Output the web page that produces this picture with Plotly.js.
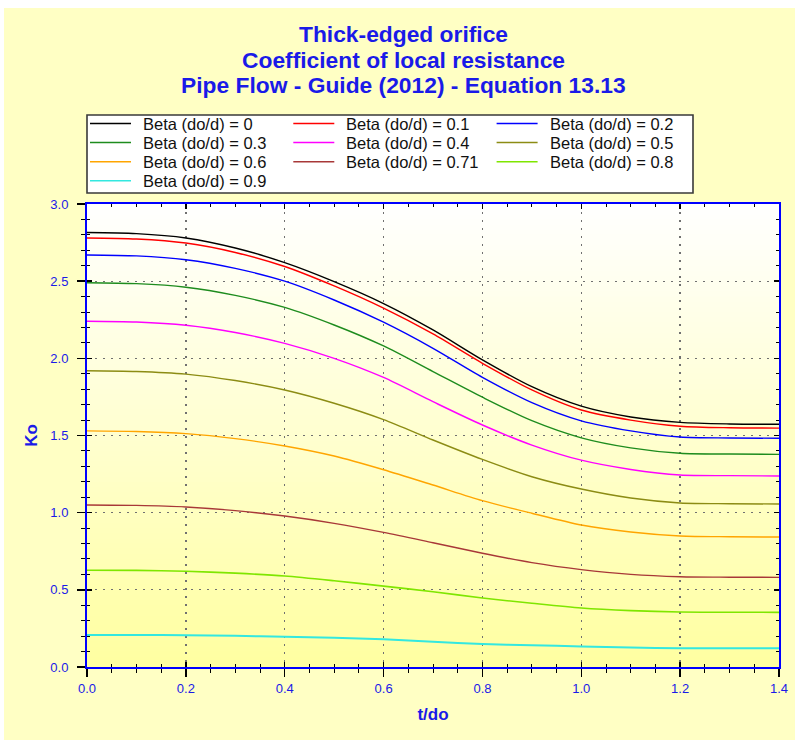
<!DOCTYPE html>
<html>
<head>
<meta charset="utf-8">
<script src="https://cdn.plot.ly/plotly-3.0.1.min.js"></script>
<style>
html,body{margin:0;padding:0;background:#ffffff;}
#chart{position:absolute;left:4px;top:8px;width:791px;height:732px;}
</style>
</head>
<body>
<div id="chart"></div>
<script>
// ---------- data ----------
const tdo = [0, 0.1, 0.2, 0.3, 0.4, 0.5, 0.6, 0.7, 0.8, 0.9, 1.0, 1.1, 1.2, 1.3, 1.4];
const ko_b000 = [2.815, 2.808, 2.780, 2.715, 2.620, 2.497, 2.355, 2.184, 1.990, 1.816, 1.690, 1.620, 1.585, 1.575, 1.573];
const ko_b010 = [2.780, 2.773, 2.747, 2.686, 2.595, 2.469, 2.325, 2.158, 1.968, 1.795, 1.665, 1.600, 1.560, 1.550, 1.548];
const ko_b020 = [2.670, 2.664, 2.639, 2.583, 2.500, 2.378, 2.234, 2.065, 1.877, 1.713, 1.595, 1.530, 1.490, 1.484, 1.482];
const ko_b030 = [2.490, 2.484, 2.461, 2.408, 2.330, 2.216, 2.080, 1.914, 1.748, 1.596, 1.485, 1.420, 1.385, 1.380, 1.378];
const ko_b040 = [2.240, 2.235, 2.214, 2.167, 2.097, 2.000, 1.876, 1.719, 1.568, 1.438, 1.340, 1.280, 1.244, 1.240, 1.238];
const ko_b050 = [1.920, 1.915, 1.898, 1.856, 1.795, 1.709, 1.603, 1.471, 1.345, 1.233, 1.153, 1.095, 1.063, 1.058, 1.056];
const ko_b060 = [1.530, 1.526, 1.512, 1.480, 1.432, 1.367, 1.278, 1.179, 1.078, 0.996, 0.920, 0.875, 0.849, 0.844, 0.842];
const ko_b071 = [1.050, 1.047, 1.037, 1.013, 0.978, 0.931, 0.872, 0.805, 0.737, 0.676, 0.631, 0.600, 0.585, 0.582, 0.581];
const ko_b080 = [0.627, 0.626, 0.620, 0.608, 0.590, 0.559, 0.524, 0.488, 0.447, 0.413, 0.382, 0.365, 0.356, 0.355, 0.354];
const ko_b090 = [0.208, 0.208, 0.206, 0.202, 0.196, 0.190, 0.179, 0.164, 0.149, 0.141, 0.133, 0.126, 0.121, 0.121, 0.121];

const seriesNames = ['Beta (do/d) = 0', 'Beta (do/d) = 0.1', 'Beta (do/d) = 0.2',
  'Beta (do/d) = 0.3', 'Beta (do/d) = 0.4', 'Beta (do/d) = 0.5',
  'Beta (do/d) = 0.6', 'Beta (do/d) = 0.71', 'Beta (do/d) = 0.8', 'Beta (do/d) = 0.9'];
const seriesValues = [ko_b000, ko_b010, ko_b020, ko_b030, ko_b040, ko_b050, ko_b060, ko_b071, ko_b080, ko_b090];

const titleLines = ['Thick-edged orifice', 'Coefficient of local resistance', 'Pipe Flow - Guide (2012) - Equation 13.13'];
const xTitle = 't/do';
const yTitle = 'Ko';

// ---------- styles ----------
const seriesColors = ['#000000', '#FF0000', '#0000FF', '#1E8C1E', '#FF00FF', '#8C8C14',
  '#FFA500', '#A83838', '#7FE600', '#33E8E0'];
const seriesWidths = [1.4, 1.4, 1.4, 1.4, 1.4, 1.4, 1.4, 1.4, 1.6, 2.0];
const FONT = 'Arial, "Liberation Sans", sans-serif';
const BLUE = '#1A1AE8';

// page-pixel -> paper fraction helpers (plot area: x 87..779, y 204..667)
function fx(px) { return (px - 87) / 692; }
function fy(py) { return (667 - py) / 463; }

const traces = seriesValues.map((vals, i) => ({
  x: tdo, y: vals, type: 'scatter', mode: 'lines', name: seriesNames[i],
  line: {color: seriesColors[i], width: seriesWidths[i], shape: 'spline', smoothing: 0.8},
  hoverinfo: 'skip', showlegend: false
}));

const shapes = [];
// plot-area gradient (white at top -> yellow at bottom)
const N = 90;
for (let i = 0; i < N; i++) {
  const t = (i + 0.5) / N; // 0 bottom .. 1 top
  const b = Math.round(160 + (255 - 160) * t);
  shapes.push({type: 'rect', xref: 'x domain', yref: 'y domain', x0: 0, x1: 1,
    y0: i / N, y1: (i + 1) / N + 0.002, fillcolor: 'rgb(255,255,' + b + ')',
    line: {width: 0}, layer: 'below'});
}
// legend box
shapes.push({type: 'rect', xref: 'paper', yref: 'paper', x0: fx(87), x1: fx(693), y0: fy(193), y1: fy(115),
  fillcolor: '#FFFFFF', line: {color: '#3a3a3a', width: 1.6}, layer: 'above'});

const annotations = [];
// title lines
const titleY = [34.5, 60, 85];
titleLines.forEach((t, i) => annotations.push({
  xref: 'paper', yref: 'paper', x: fx(403.5), y: fy(titleY[i]), xanchor: 'center', yanchor: 'middle',
  text: '<b>' + t + '</b>', showarrow: false, font: {family: FONT, size: 22.8, color: BLUE}
}));
// legend entries
seriesNames.forEach((nm, i) => {
  const col = i % 3, row = Math.floor(i / 3);
  const cx = 87 + col * 203.3;
  const ry = 123.5 + row * 19.1;
  shapes.push({type: 'line', xref: 'paper', yref: 'paper', x0: fx(cx + 3), x1: fx(cx + 44),
    y0: fy(ry), y1: fy(ry), line: {color: seriesColors[i], width: 1.5}, layer: 'above'});
  annotations.push({xref: 'paper', yref: 'paper', x: fx(cx + 54), y: fy(ry + 0.5), xanchor: 'left', yanchor: 'middle',
    text: nm, showarrow: false, font: {family: FONT, size: 16.5, color: '#111111'}});
});

const axisCommon = {
  showline: true, linecolor: '#0000FF', linewidth: 2, mirror: true,
  ticks: 'outside', ticklen: 8, tickwidth: 1.5, tickcolor: '#000000',
  showgrid: true, gridcolor: '#707070', gridwidth: 1.3, griddash: '2px,6px',
  zeroline: false, tickformat: '.1f', fixedrange: true,
  tickfont: {family: FONT, size: 13, color: BLUE}
};

const layout = {
  width: 791, height: 732,
  margin: {l: 83, r: 16, t: 196, b: 73, pad: 0},
  paper_bgcolor: 'rgb(255,255,196)',
  plot_bgcolor: 'rgb(255,255,220)',
  showlegend: false,
  xaxis: Object.assign({}, axisCommon, {
    range: [0, 1.4], tick0: 0, dtick: 0.2,
    minor: {dtick: 0.05, ticks: 'outside', ticklen: 4, tickwidth: 1, tickcolor: '#000000', showgrid: false},
    ticklabelstandoff: 0,
    title: {text: '<b>' + xTitle + '</b>', font: {family: FONT, size: 17, color: BLUE}, standoff: 14}
  }),
  yaxis: Object.assign({}, axisCommon, {
    range: [0, 3], tick0: 0, dtick: 0.5,
    minor: {dtick: 0.1, ticks: 'outside', ticklen: 4, tickwidth: 1, tickcolor: '#000000', showgrid: false},
    ticklabelstandoff: 6,
    title: {text: '<b>' + yTitle + '</b>', font: {family: FONT, size: 17, color: BLUE}, standoff: 8}
  }),
  xaxis2: {overlaying: 'x', anchor: 'y2', range: [0, 1.4], tick0: 0, dtick: 0.2,
    ticks: 'inside', ticklen: 5, tickwidth: 1.5, tickcolor: '#000000', mirror: 'ticks',
    minor: {dtick: 0.05, ticks: 'inside', ticklen: 3, tickwidth: 1, tickcolor: '#000000'},
    showticklabels: false, showgrid: false, showline: false, zeroline: false, fixedrange: true},
  yaxis2: {overlaying: 'y', anchor: 'x2', range: [0, 3], tick0: 0, dtick: 0.5,
    ticks: 'inside', ticklen: 5, tickwidth: 1.5, tickcolor: '#000000', mirror: 'ticks',
    minor: {dtick: 0.1, ticks: 'inside', ticklen: 3, tickwidth: 1, tickcolor: '#000000'},
    showticklabels: false, showgrid: false, showline: false, zeroline: false, fixedrange: true},
  shapes: shapes,
  annotations: annotations
};

// invisible helper trace so the overlay (inside-tick) axes are drawn
traces.push({x: tdo, y: ko_b000, xaxis: 'x2', yaxis: 'y2', type: 'scatter', mode: 'lines',
  line: {width: 0, color: 'rgba(0,0,0,0)'}, hoverinfo: 'skip', showlegend: false});

Plotly.newPlot('chart', traces, layout, {displayModeBar: false, staticPlot: true});
</script>
</body>
</html>
